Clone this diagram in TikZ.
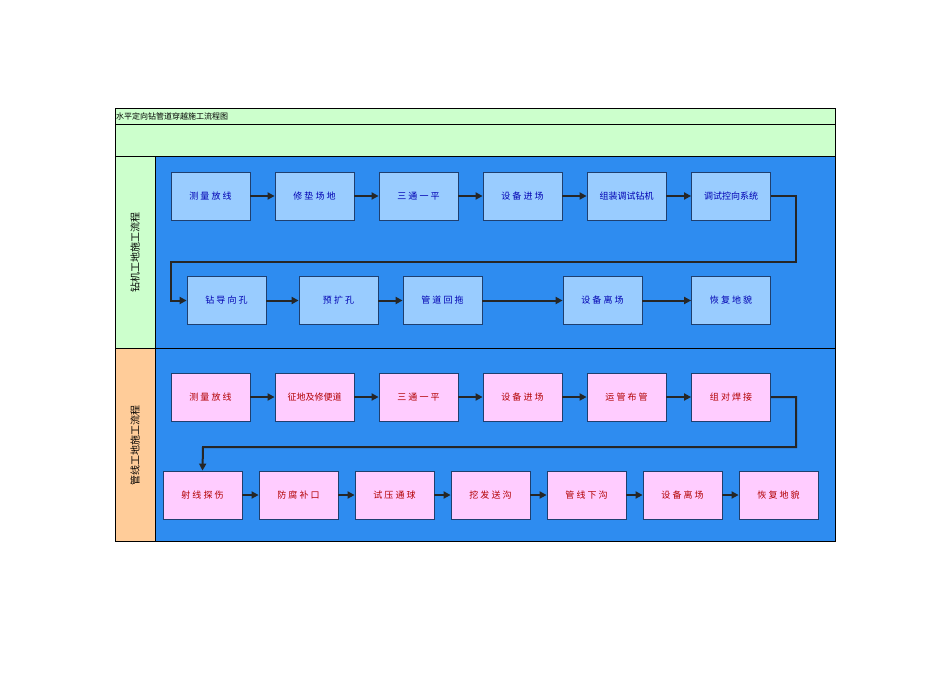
\documentclass[tikz,border=0pt]{standalone}
\usepackage{fontspec}
\setmainfont{Noto Sans CJK SC}
\usetikzlibrary{arrows.meta}
\definecolor{bg}{HTML}{2E8CF0}
\definecolor{ub}{HTML}{99CCFF}
\definecolor{lb}{HTML}{FFCCFF}
\definecolor{gr}{HTML}{CCFFCC}
\definecolor{org}{HTML}{FFCC99}
\definecolor{bd}{HTML}{1F3F6F}
\begin{document}
\begin{tikzpicture}[x=1pt,y=-1pt,
  ubox/.style={draw=bd,line width=0.8pt,fill=ub,minimum width=79pt,minimum height=48pt,inner sep=0pt,font=\fontsize{9}{10}\selectfont,text=blue!70!black},
  lbox/.style={draw=bd,line width=0.8pt,fill=lb,minimum width=79pt,minimum height=48pt,inner sep=0pt,font=\fontsize{9}{10}\selectfont,text=red!70!black},
  ar/.style={line width=2pt,-{Triangle[length=7pt,width=7pt]},black!85}]
\useasboundingbox (0,0) rectangle (950,672);
\fill[white] (0,0) rectangle (950,672);
% frame
\draw[fill=gr,line width=0.6pt] (115,108) rectangle (835,124);
\node[anchor=west,inner sep=1pt,font=\fontsize{8}{9}\selectfont] (title) at (115,116) {水平定向钻管道穿越施工流程图};
\draw[fill=gr,line width=0.6pt] (115,124) rectangle (835,156);
\draw[fill=gr,line width=0.6pt] (115,156) rectangle (155,348);
\draw[fill=org,line width=0.6pt] (115,348) rectangle (155,541);
\draw[fill=bg,line width=0.6pt] (155,156) rectangle (835,348);
\draw[fill=bg,line width=0.6pt] (155,348) rectangle (835,541);
\node[rotate=90,font=\fontsize{10}{11}\selectfont] (la) at (135,252) {钻机工地施工流程};
\node[rotate=90,font=\fontsize{10}{11}\selectfont] (lb) at (135,445) {管线工地施工流程};
% upper row 1
\node[ubox] (a1) at (210.5,196) {测 量 放 线};
\node[ubox] (a2) at (314.5,196) {修 垫 场 地};
\node[ubox] (a3) at (418.5,196) {三 通 一 平};
\node[ubox] (a4) at (522.5,196) {设 备 进 场};
\node[ubox] (a5) at (626.5,196) {组装调试钻机};
\node[ubox] (a6) at (731,196) {调试控向系统};
\node[ubox] (b1) at (226.5,300.5) {钻 导 向 孔};
\node[ubox] (b2) at (338.5,300.5) {预 扩 孔};
\node[ubox] (b3) at (442.5,300.5) {管 道 回 拖};
\node[ubox] (b4) at (602.5,300.5) {设 备 离 场};
\node[ubox] (b5) at (731,300.5) {恢 复 地 貌};
\foreach \p/\q in {a1/a2,a2/a3,a3/a4,a4/a5,a5/a6,b1/b2,b2/b3,b3/b4,b4/b5} \draw[ar] (\p) -- (\q);
\draw[ar] (a6.east) -- (796,196) -- (796,262) -- (171,262) -- (171,300.5) -- (b1.west);
% lower
\node[lbox] (c1) at (210.5,397) {测 量 放 线};
\node[lbox] (c2) at (314.5,397) {征地及修便道};
\node[lbox] (c3) at (418.5,397) {三 通 一 平};
\node[lbox] (c4) at (522.5,397) {设 备 进 场};
\node[lbox] (c5) at (626.5,397) {运 管 布 管};
\node[lbox] (c6) at (731,397) {组 对 焊 接};
\node[lbox] (d1) at (202.5,495) {射 线 探 伤};
\node[lbox] (d2) at (298.5,495) {防 腐 补 口};
\node[lbox] (d3) at (394.5,495) {试 压 通 球};
\node[lbox] (d4) at (490.5,495) {挖 发 送 沟};
\node[lbox] (d5) at (586.5,495) {管 线 下 沟};
\node[lbox] (d6) at (682.5,495) {设 备 离 场};
\node[lbox] (d7) at (778.5,495) {恢 复 地 貌};
\foreach \p/\q in {c1/c2,c2/c3,c3/c4,c4/c5,c5/c6,d1/d2,d2/d3,d3/d4,d4/d5,d5/d6,d6/d7} \draw[ar] (\p) -- (\q);
\draw[ar] (c6.east) -- (796,397) -- (796,447) -- (203,447) -- (d1.north);
\end{tikzpicture}
\end{document}
